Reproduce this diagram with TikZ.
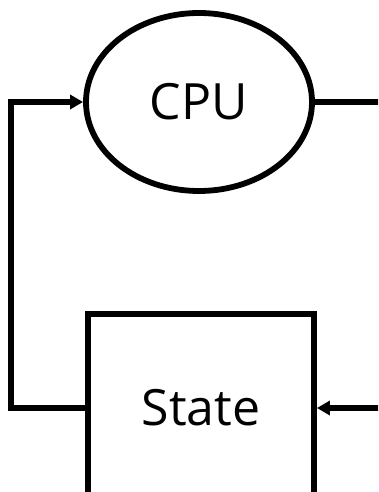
\documentclass[tikz,border=0pt]{standalone}
\usepackage{fontspec}
\setmainfont{Open Sans}
\usetikzlibrary{arrows.meta,shapes.geometric}
\begin{document}
\begin{tikzpicture}[x=1pt,y=-1pt,line width=5.8pt,
    >={Triangle[length=13pt,width=14pt]},
    blob/.style={draw,ellipse,inner sep=0pt,minimum width=226pt,minimum height=178pt,font=\fontsize{50}{60}\selectfont},
    box/.style={draw,rectangle,inner sep=0pt,minimum width=226pt,minimum height=188pt,font=\fontsize{50}{60}\selectfont}]
    \useasboundingbox (0,0) rectangle (378,492);
    \clip (0,0) rectangle (378,492);
    \node[blob] (cpu) at (199,102) {CPU};
    \node[box] (state) at (201,408) {State};
    \coordinate (cpuout) at (380,102);
    \coordinate (statein) at (380,408);
    \draw[->] (state.west) -- ++(-74,0) |- (cpu.west);
    \draw (cpu.east) -- (cpuout);
    \draw[->] (statein) -- (state.east);
  \end{tikzpicture}
\end{document}
